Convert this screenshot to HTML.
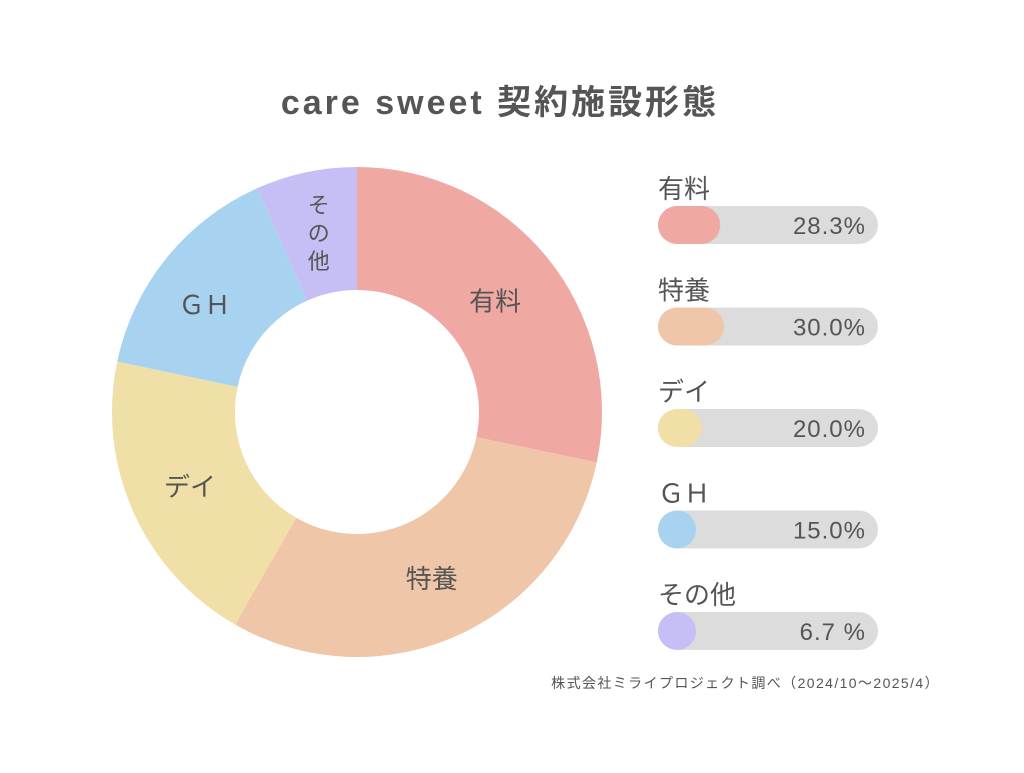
<!DOCTYPE html>
<html><head><meta charset="utf-8"><style>
body{margin:0;width:1024px;height:768px;background:#fff;font-family:"Liberation Sans","Noto Sans CJK JP",sans-serif;color:#555;overflow:hidden}
</style></head><body>
<svg width="1024" height="768" id="svg">
<text x="500" y="114" text-anchor="middle" font-size="34" font-weight="bold" letter-spacing="3" fill="#555" font-family="Liberation Sans, Noto Sans CJK JP, sans-serif">care sweet 契約施設形態</text>
<g id="donut"></g>
<g id="legend"></g>
<text x="940" y="688" text-anchor="end" font-size="14" letter-spacing="1.4" fill="#555" font-family="Liberation Sans, Noto Sans CJK JP, sans-serif">株式会社ミライプロジェクト調べ（2024/10〜2025/4）</text>
</svg>
<script>
const categories=["有料","特養","デイ","ＧＨ","その他"];
const values=[28.3,30.0,20.0,15.0,6.7];
const valueLabels=["28.3%","30.0%","20.0%","15.0%","6.7 %"];
const colors=["#f0a8a2","#f0c6a8","#f0e0a8","#a8d3f0","#c6bff5"];
const NS="http://www.w3.org/2000/svg";
const cx=357,cy=412,R=245,r=122;
const total=values.reduce((a,b)=>a+b,0);
const donut=document.getElementById('donut');
const legend=document.getElementById('legend');
function pt(rad,a){return [cx+rad*Math.sin(a),cy-rad*Math.cos(a)];}
let acc=0;
values.forEach((v,i)=>{
  const a0=acc/total*2*Math.PI;acc+=v;const a1=acc/total*2*Math.PI;
  const lg=(a1-a0)>Math.PI?1:0;
  const [x0,y0]=pt(R,a0),[x1,y1]=pt(R,a1),[x2,y2]=pt(r,a1),[x3,y3]=pt(r,a0);
  const p=document.createElementNS(NS,'path');
  p.setAttribute('d',`M${x0},${y0}A${R},${R} 0 ${lg} 1 ${x1},${y1}L${x2},${y2}A${r},${r} 0 ${lg} 0 ${x3},${y3}Z`);
  p.setAttribute('fill',colors[i]);
  
  
  donut.appendChild(p);
  const am=(a0+a1)/2;const [tx,ty]=pt(183,am);
  if(i===4){
    ['そ','の','他'].forEach((c,k)=>{
      const t=document.createElementNS(NS,'text');
      t.setAttribute('x',tx);t.setAttribute('y',ty-28+k*28+8);
      t.setAttribute('text-anchor','middle');t.setAttribute('font-size','22');t.setAttribute('fill','#555');
      
      
      t.textContent=c;donut.appendChild(t);
    });
  } else {
    const t=document.createElementNS(NS,'text');
    const dx=(i===3)?-10:(i===0?-4:0);
    const dy=(i===3)?8:(i===0?5:0);
    t.setAttribute('x',tx+dx);t.setAttribute('y',ty+9+dy);
    t.setAttribute('text-anchor','middle');t.setAttribute('font-size','26');t.setAttribute('fill','#555');
    
    
    t.textContent=categories[i];donut.appendChild(t);
  }
});
categories.forEach((c,i)=>{
  const y=225+i*101.5;
  const t=document.createElementNS(NS,'text');
  t.setAttribute('x',658);t.setAttribute('y',y-27);t.setAttribute('font-size','26');t.setAttribute('fill','#555');
  
  
  t.textContent=c;legend.appendChild(t);
  const bg=document.createElementNS(NS,'rect');
  bg.setAttribute('x',658);bg.setAttribute('y',y-19);bg.setAttribute('width',220);bg.setAttribute('height',38);bg.setAttribute('rx',19);bg.setAttribute('fill','#dcdcdc');
  
  
  legend.appendChild(bg);
  const f=document.createElementNS(NS,'rect');
  f.setAttribute('x',658);f.setAttribute('y',y-19);f.setAttribute('width',Math.max(38,values[i]/100*220));f.setAttribute('height',38);f.setAttribute('rx',19);f.setAttribute('fill',colors[i]);
  
  
  legend.appendChild(f);
  const v=document.createElementNS(NS,'text');
  v.setAttribute('x',866);v.setAttribute('y',y+9);v.setAttribute('text-anchor','end');v.setAttribute('font-size','24');v.setAttribute('letter-spacing','1');v.setAttribute('fill','#555');
  
  
  v.textContent=valueLabels[i];legend.appendChild(v);
});
</script>
</body></html>
